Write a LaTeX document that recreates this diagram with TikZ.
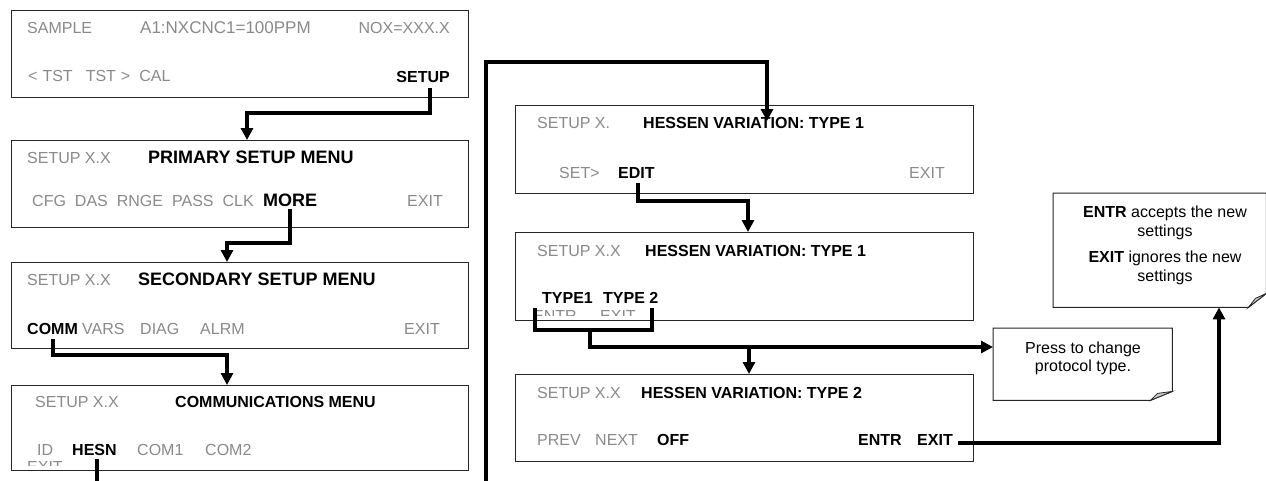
\documentclass[tikz,border=0pt]{standalone}
\usepackage{fontspec}
\setmainfont{Liberation Sans}
\usetikzlibrary{arrows.meta,calc}
\definecolor{lcdgray}{HTML}{8A8A8A}
\definecolor{foldgray}{HTML}{C8C8C8}
\begin{document}
\begin{tikzpicture}[x=1pt,y=-1pt,
  panel/.style={draw=black!85, line width=1pt, fill=white, inner sep=0pt, anchor=north west},
  gt/.style={text=lcdgray, font=\fontsize{16}{19}\selectfont, inner sep=0pt, anchor=base west},
  bt/.style={text=black, font=\fontsize{16}{19}\selectfont\bfseries, inner sep=0pt, anchor=base west},
  bigbt/.style={bt, font=\fontsize{18}{21}\selectfont\bfseries},
  nt/.style={text=black, font=\fontsize{16}{19}\selectfont, inner sep=0pt, anchor=base},
  conn/.style={line width=3.5pt, black},
  arr/.style={conn, -{Triangle[width=12pt,length=12pt]}},
  notebox/.style={draw=none, inner sep=0pt, anchor=north west},
  noteline/.style={draw=black!85, line width=1pt, fill=white},
  fold/.style={draw=black!85, line width=0.8pt, fill=foldgray}]
\useasboundingbox (0,0) rectangle (1266,480);

% ---------------- left column panels ----------------
\node[panel, minimum width=457pt, minimum height=87pt] (b1) at (11,10) {};
\node[gt] (b1t1) at (27,33) {SAMPLE};
\node[gt, font=\fontsize{17}{19}\selectfont] (b1t2) at (140,33) {A1:NXCNC1=100PPM};
\node[gt, anchor=base east] (b1t3) at (450,33) {NOX=XXX.X};
\node[gt] (b1t4) at (28,81) {<\hspace{5pt}TST\hspace{13pt}TST\hspace{5pt}>\hspace{9pt}CAL};
\node[bt, anchor=base east] (setup) at (450,82) {SETUP};

\node[panel, minimum width=457pt, minimum height=87pt] (b2) at (11,140) {};
\node[gt] (b2t1) at (27,163) {SETUP X.X};
\node[bigbt] (b2t2) at (148,163) {PRIMARY SETUP MENU};
\node[gt] (b2k1) at (32,206) {CFG\hspace{9pt}DAS\hspace{9pt}RNGE\hspace{9pt}PASS\hspace{9pt}CLK};
\node[bigbt] (more) at (263,206) {MORE};
\node[gt, anchor=base east] (b2k7) at (443,206) {EXIT};

\node[panel, minimum width=457pt, minimum height=86pt] (b3) at (11,262) {};
\node[gt] (b3t1) at (27,285) {SETUP X.X};
\node[bigbt] (b3t2) at (138,285) {SECONDARY SETUP MENU};
\node[bt] (comm) at (27,334) {COMM};
\node[gt] (b3k2) at (82,334) {VARS};
\node[gt] (b3k3) at (140,334) {DIAG};
\node[gt] (b3k4) at (200,334) {ALRM};
\node[gt, anchor=base east] (b3k5) at (440,334) {EXIT};

\node[panel, minimum width=457pt, minimum height=85pt] (b4) at (11,385) {};
\node[gt] (b4t1) at (35,407) {SETUP X.X};
\node[bt] (b4t2) at (175,407) {COMMUNICATIONS MENU};
\node[gt] (b4k1) at (37,455) {ID};
\node[bt] (hesn) at (72,455) {HESN};
\node[gt] (b4k3) at (137,455) {COM1};
\node[gt] (b4k4) at (205,455) {COM2};
\begin{scope}
  \clip (11,385) rectangle (468,465);
  \node[gt] (b4k5) at (27,472) {EXIT};
\end{scope}

% ---------------- right column panels ----------------
\node[panel, minimum width=458pt, minimum height=88pt] (b5) at (515,105) {};
\node[gt] (b5t1) at (537,128) {SETUP X.};
\node[bt] (b5t2) at (643,128) {HESSEN VARIATION: TYPE 1};
\node[gt] (b5k1) at (559,178) {SET>};
\node[bt] (edit) at (618,178) {EDIT};
\node[gt, anchor=base east] (b5k3) at (945,178) {EXIT};

\node[panel, minimum width=458pt, minimum height=88pt] (b6) at (515,232) {};
\node[gt] (b6t1) at (537,256) {SETUP X.X};
\node[bt] (b6t2) at (645,256) {HESSEN VARIATION: TYPE 1};
\node[bt] (type1) at (542,303) {TYPE1};
\node[bt] (type2) at (603,303) {TYPE 2};
\begin{scope}
  \clip (515,232) rectangle (973,315);
  \node[gt] (b6g1) at (533,321.5) {ENTR};
  \node[gt] (b6g2) at (600,321.5) {EXIT};
\end{scope}

\node[panel, minimum width=458pt, minimum height=87pt] (b7) at (515,374) {};
\node[gt] (b7t1) at (537,398) {SETUP X.X};
\node[bt] (b7t2) at (641,398) {HESSEN VARIATION: TYPE 2};
\node[gt] (b7k1) at (537,445) {PREV};
\node[gt] (b7k2) at (595,445) {NEXT};
\node[bt] (b7k3) at (657,445) {OFF};
\node[bt] (b7k4) at (858,445) {ENTR};
\node[bt] (exit7) at (917,445) {EXIT};

% ---------------- notes ----------------
\node[notebox, minimum width=213pt, minimum height=114pt] (n1) at (1053,193) {};
\draw[noteline] (n1.north west) -- (n1.north east) -- ($(n1.south east)+(0,-14)$)
  -- ($(n1.south east)+(-18,0)$) -- (n1.south west) -- cycle;
\draw[fold] ($(n1.south east)+(-18,0)$) -- ($(n1.south east)+(0,-14)$) -- ($(n1.south east)+(-11,-9)$) -- cycle;
\node[nt] (n1l1) at (1165,217) {\textbf{ENTR} accepts the new};
\node[nt] (n1l2) at (1165,236) {settings};
\node[nt] (n1l3) at (1165,262) {\textbf{EXIT} ignores the new};
\node[nt] (n1l4) at (1165,281) {settings};

\node[notebox, minimum width=179pt, minimum height=72pt] (n2) at (993,328) {};
\draw[noteline] (n2.north west) -- (n2.north east) -- ($(n2.south east)+(0,-9)$)
  -- ($(n2.south east)+(-22,0)$) -- (n2.south west) -- cycle;
\draw[fold] ($(n2.south east)+(-22,0)$) -- ($(n2.south east)+(0,-9)$) -- ($(n2.south east)+(-15,-7)$) -- cycle;
\node[nt] (n2l1) at (1083,353) {Press to change};
\node[nt] (n2l2) at (1083,371) {protocol type.};

% ---------------- connectors ----------------
\coordinate (s1) at (430,88);
\coordinate (k1) at (247,113);
\draw[arr] (s1) |- (k1) -- (k1 |- b2.north);

\coordinate (s2) at (290,209);
\coordinate (k2) at (227,243);
\draw[arr] (s2) |- (k2) -- (k2 |- b3.north);

\coordinate (s3) at (53,339);
\coordinate (k3) at (227,355);
\draw[arr] (s3) |- (k3) -- (k3 |- b4.north);

\coordinate (s4) at (97,459);
\coordinate (e4) at (97,481);
\draw[conn] (s4) -- (e4);

\coordinate (bot5) at (486,481);
\coordinate (k5) at (767,62);
\coordinate (t5) at (767,121);
\draw[arr] (bot5) |- (k5) -- (t5);

\coordinate (s6) at (638,183);
\coordinate (k6) at (748,201);
\draw[arr] (s6) |- (k6) -- (k6 |- b6.north);

\coordinate (brL) at (535,308);
\coordinate (brR) at (652,308);
\coordinate (brB) at (535,330);
\draw[conn] (brL) -- (brB) -| (brR);
\coordinate (s7) at (590,330);
\coordinate (k7) at (590,347);
\draw[arr] (s7) -- (k7) -- (k7 -| n2.west);
\coordinate (k8) at (749,347);
\draw[arr] (k8) -- (k8 |- b7.north);

\coordinate (s9) at (958,443);
\coordinate (k9) at (1219,443);
\draw[arr] (s9) -- (k9) -- (k9 |- n1.south);
\end{tikzpicture}
\end{document}
